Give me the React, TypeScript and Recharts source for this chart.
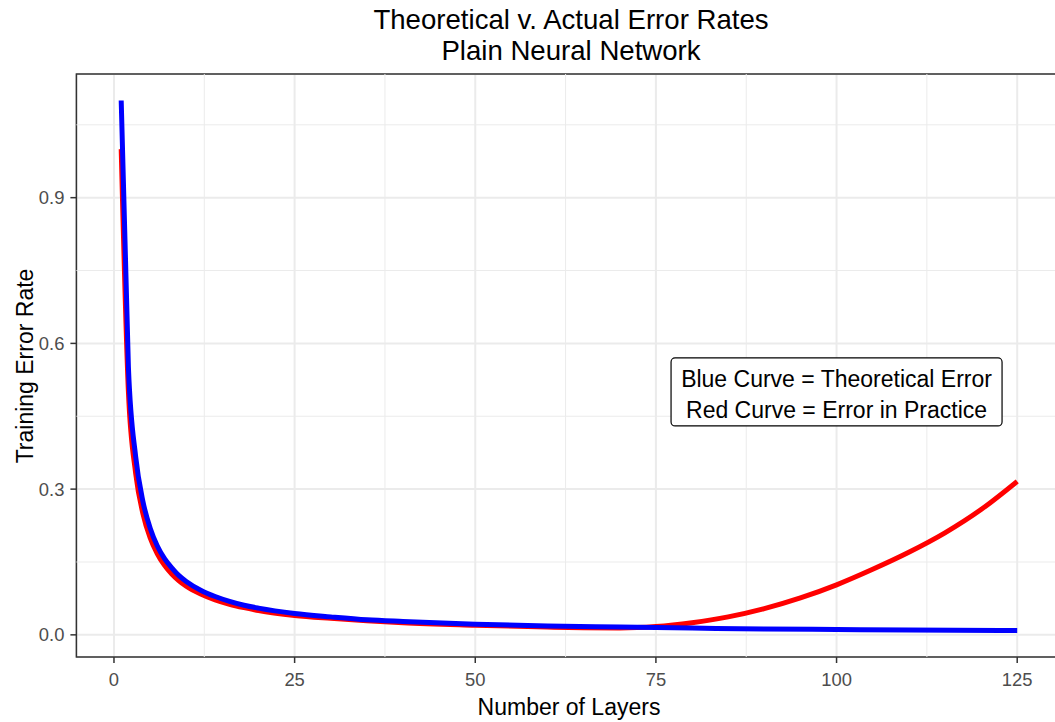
import React from "react";
import { LineChart, Line, XAxis, YAxis, CartesianGrid, ReferenceLine, ReferenceArea, ReferenceDot } from "recharts";

const blueX = [1, 2, 3, 4, 5, 6, 7, 8, 9, 10, 12, 14, 16, 18, 20, 25, 30, 35, 40, 50, 60, 70, 80, 90, 100, 110, 125];
const blueY = [1.1, 0.55, 0.367, 0.275, 0.22, 0.183, 0.157, 0.138, 0.122, 0.11, 0.092, 0.079, 0.069, 0.061, 0.055, 0.044, 0.037, 0.031, 0.0275, 0.022, 0.018, 0.016, 0.014, 0.012, 0.011, 0.01, 0.009];

const redX = [1, 2, 3, 4, 5, 6, 7, 8, 9, 10, 12, 14, 16, 18, 20, 25, 30, 35, 40, 50, 60, 65, 70, 75, 80, 85, 90, 95, 100, 105, 110, 115, 120, 125];
const redY = [1.0, 0.5, 0.333, 0.25, 0.2, 0.167, 0.143, 0.125, 0.111, 0.1, 0.084, 0.072, 0.063, 0.056, 0.05, 0.04, 0.034, 0.029, 0.025, 0.02, 0.016, 0.0145, 0.014, 0.017, 0.025, 0.037, 0.054, 0.076, 0.103, 0.135, 0.17, 0.21, 0.258, 0.316];

const xTicks = [0, 25, 50, 75, 100, 125];
const yTicks = [0, 0.3, 0.6, 0.9];
const xMinor = [12.5, 37.5, 62.5, 87.5, 112.5];
const yMinor = [0.15, 0.45, 0.75, 1.05];

const titleLines = ["Theoretical v. Actual Error Rates", "Plain Neural Network"];
const xTitle = "Number of Layers";
const yTitle = "Training Error Rate";
const noteLines = ["Blue Curve = Theoretical Error", "Red Curve = Error in Practice"];

const blueData = blueX.map((x, i) => ({ x, y: blueY[i] }));
const redData = redX.map((x, i) => ({ x, y: redY[i] }));

const FONT = "'Liberation Sans', Arial, sans-serif";
const X_DOMAIN: [number, number] = [-5.2, 131.2];
const Y_DOMAIN: [number, number] = [-0.0456, 1.1546];

const NoteShape = (props: any) => {
  const { cx, cy } = props;
  const w = 331;
  const h = 68;
  return (
    <g>
      <rect x={cx - w / 2} y={cy - h / 2} width={w} height={h} rx={4} ry={4} fill="#FFFFFF" stroke="#000000" strokeWidth={1.2} />
      <text x={cx} y={cy - 5} textAnchor="middle" fontFamily={FONT} fontSize={23} fill="#000000">{noteLines[0]}</text>
      <text x={cx} y={cy + 26} textAnchor="middle" fontFamily={FONT} fontSize={23} fill="#000000">{noteLines[1]}</text>
    </g>
  );
};

export default function App() {
  return (
    <div style={{ position: "absolute", left: 0, top: 0, width: 1055, height: 722, overflow: "hidden", background: "#FFFFFF" }}>
      <LineChart width={1070} height={722} margin={{ top: 74, right: 8, bottom: 0, left: 0 }}>
        <CartesianGrid stroke="#EBEBEB" strokeWidth={2} />
        {xMinor.map((v) => (
          <ReferenceLine key={"xm" + v} x={v} stroke="#EBEBEB" strokeWidth={1} />
        ))}
        {yMinor.map((v) => (
          <ReferenceLine key={"ym" + v} y={v} stroke="#EBEBEB" strokeWidth={1} />
        ))}
        <XAxis
          type="number"
          dataKey="x"
          domain={X_DOMAIN}
          allowDataOverflow
          ticks={xTicks}
          height={65}
          axisLine={false}
          tickSize={6}
          tickMargin={10}
          tickLine={{ stroke: "#333333", strokeWidth: 1.5 }}
          tick={{ fill: "#4D4D4D", fontSize: 18.4, fontFamily: FONT }}
        />
        <YAxis
          type="number"
          dataKey="y"
          domain={Y_DOMAIN}
          allowDataOverflow
          ticks={yTicks}
          width={76.4}
          axisLine={false}
          tickSize={6}
          tickMargin={6}
          tickLine={{ stroke: "#333333", strokeWidth: 1.5 }}
          tick={{ fill: "#4D4D4D", fontSize: 18.4, fontFamily: FONT }}
          tickFormatter={(v: number) => v.toFixed(1)}
        />
        <ReferenceArea x1={X_DOMAIN[0]} x2={X_DOMAIN[1]} y1={Y_DOMAIN[0]} y2={Y_DOMAIN[1]} fill="none" fillOpacity={0} stroke="#333333" strokeWidth={1.5} ifOverflow="visible" />
        <Line data={redData} dataKey="y" type="monotone" stroke="#FF0000" strokeWidth={5} dot={false} isAnimationActive={false} />
        <Line data={blueData} dataKey="y" type="monotone" stroke="#0000FF" strokeWidth={5} dot={false} isAnimationActive={false} />
        <ReferenceDot x={100} y={0.5} r={0} ifOverflow="visible" shape={NoteShape} />
      </LineChart>
      <svg width={1055} height={722} style={{ position: "absolute", left: 0, top: 0, pointerEvents: "none" }}>
        <text x={571} y={29} textAnchor="middle" fontFamily={FONT} fontSize={27.6} fill="#000000">{titleLines[0]}</text>
        <text x={571} y={60} textAnchor="middle" fontFamily={FONT} fontSize={27.6} fill="#000000">{titleLines[1]}</text>
        <text x={569} y={715} textAnchor="middle" fontFamily={FONT} fontSize={23} fill="#000000">{xTitle}</text>
        <text transform="translate(32.5,366) rotate(-90)" x={0} y={0} textAnchor="middle" fontFamily={FONT} fontSize={23} fill="#000000">{yTitle}</text>
      </svg>
    </div>
  );
}
